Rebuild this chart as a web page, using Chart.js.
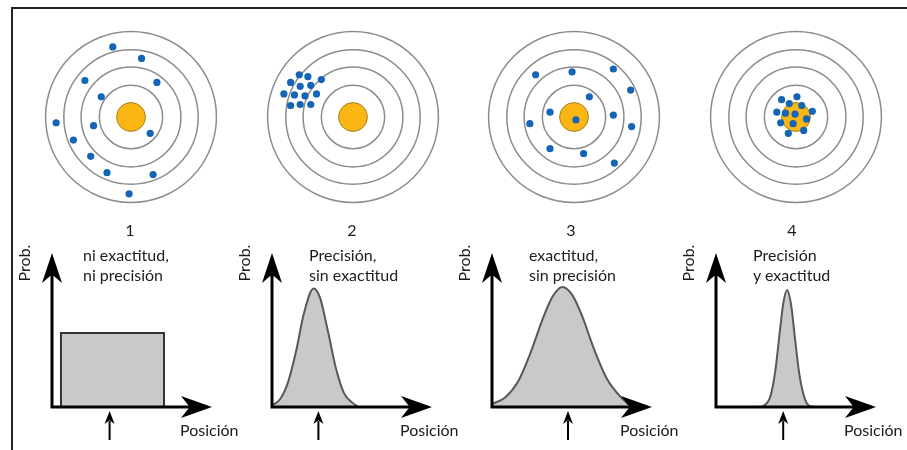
<!DOCTYPE html>
<html lang="es">
<head>
  <meta charset="UTF-8">
  <title>Exactitud y precisión</title>
  <script src="https://cdn.jsdelivr.net/npm/chart.js"></script>
  <style>
    body { margin: 0; background: #fff; width: 907px; height: 450px; overflow: hidden; position: relative; font-family: Lato, "Open Sans", sans-serif; color: #1c1c1c; }
    #frame { position: absolute; left: 11px; top: 7px; width: 896px; height: 443px; border-left: 2px solid #222; border-top: 2px solid #222; box-sizing: border-box; }
    canvas { position: absolute; }
    .txt { position: absolute; font-size: 16px; line-height: 20px; white-space: nowrap; }
    .num { transform: translateX(-50%); }
    .rot { transform: translate(-50%, -50%) rotate(-90deg); }
  </style>
</head>
<body>
  <div id="frame"></div>

  <script>
    // --- datos ---
    const panelNumbers = ['1', '2', '3', '4'];
    const captions = [
      ['ni exactitud,', 'ni precisión'],
      ['Precisión,', 'sin exactitud'],
      ['exactitud,', 'sin precisión'],
      ['Precisión', 'y exactitud']
    ];
    const yAxisLabel = 'Prob.';
    const xAxisLabel = 'Posición';

    // anillos de la diana (mismas unidades que los impactos)
    const ringRadii = [33, 52, 70, 89];
    const bullRadius = 15;

    // impactos en cada diana (x a la derecha, y hacia arriba, centro = 0)
    const hitsX1 = [-19, 11, -48, 27, -31, -78, -39, 20, -60, -42, -25, 23, -2];
    const hitsY1 = [73, 61, 38, 36, 21, -6, -9, -17, -24, -41, -58, -60, -80];
    const hitsX2 = [-56, -47, -33, -65, -55, -44, -72, -61, -50, -38, -65, -55, -44];
    const hitsY2 = [44, 42, 39, 36, 32, 33, 24, 23, 22, 24, 12, 13, 13];
    const hitsX3 = [-40, -2, 41, 59, 16, -25, 41, -46, 2, 60, -25, 10, 42];
    const hitsY3 = [44, 47, 50, 28, 21, 5, 2, -7, -3, -10, -33, -38, -48];
    const hitsX4 = [-15, 1, -7, 6, -20, -11, -1, 17, 11, -16, -3, 8, -8];
    const hitsY4 = [18, 21, 14, 12, 5, 4, 3, 6, -2, -6, -7, -14, -17];

    // distribuciones (posición 0-100, probabilidad 0-1)
    const pos1 = [5.6, 5.6, 70, 70];
    const prob1 = [0, 0.48, 0.48, 0];
    const pos2 = [0, 5, 10, 15, 20, 26, 30, 35, 40, 45, 50, 54];
    const prob2 = [0.01, 0.05, 0.16, 0.36, 0.61, 0.77, 0.71, 0.49, 0.25, 0.09, 0.03, 0];
    const pos3 = [0, 8, 16, 24, 32, 38, 44, 50, 56, 64, 72, 80, 85];
    const prob3 = [0.02, 0.06, 0.16, 0.35, 0.58, 0.72, 0.78, 0.73, 0.6, 0.37, 0.18, 0.07, 0.02];
    const pos4 = [26, 30, 34, 37, 40, 42, 44.4, 47, 49, 52, 55, 58, 62];
    const prob4 = [0, 0.01, 0.07, 0.23, 0.5, 0.67, 0.76, 0.66, 0.48, 0.22, 0.07, 0.01, 0];
    const truePos = [36, 29, 47.5, 42];

    // --- maquetación ---
    const targetCenterX = [131, 353, 574, 796];
    const targetCenterY = 117;
    const axisLeft = [52, 272, 492, 716];
    const numberX = [130, 352, 571, 792];

    const hitsX = [hitsX1, hitsX2, hitsX3, hitsX4];
    const hitsY = [hitsY1, hitsY2, hitsY3, hitsY4];
    const posList = [pos1, pos2, pos3, pos4];
    const probList = [prob1, prob2, prob3, prob4];

    function addCanvas(left, top, w, h) {
      const c = document.createElement('canvas');
      c.width = w; c.height = h;
      c.style.left = left + 'px'; c.style.top = top + 'px';
      document.body.appendChild(c);
      return c;
    }

    function addText(text, left, top, cls) {
      const d = document.createElement('div');
      d.className = 'txt ' + (cls || '');
      d.textContent = text;
      d.style.left = left + 'px'; d.style.top = top + 'px';
      document.body.appendChild(d);
    }

    const targetRings = {
      id: 'targetRings',
      beforeDatasetsDraw(chart) {
        const { ctx, scales: { x, y } } = chart;
        const cx = x.getPixelForValue(0), cy = y.getPixelForValue(0);
        const unit = x.getPixelForValue(1) - cx;
        ctx.save();
        ctx.strokeStyle = '#8c8c8c';
        ctx.lineWidth = 1.5;
        ringRadii.forEach(r => {
          ctx.beginPath();
          ctx.arc(cx, cy, r * unit, 0, Math.PI * 2);
          ctx.stroke();
        });
        ctx.beginPath();
        ctx.arc(cx, cy, bullRadius * unit, 0, Math.PI * 2);
        ctx.fillStyle = '#fbb614';
        ctx.fill();
        ctx.strokeStyle = '#a5801f';
        ctx.lineWidth = 1;
        ctx.stroke();
        ctx.restore();
      }
    };

    function arrowHead(ctx, tx, ty, dx, dy, len, half) {
      const px = -dy, py = dx;
      ctx.beginPath();
      ctx.moveTo(tx, ty);
      ctx.lineTo(tx - dx * len + px * half, ty - dy * len + py * half);
      ctx.lineTo(tx - dx * len * 0.72, ty - dy * len * 0.72);
      ctx.lineTo(tx - dx * len - px * half, ty - dy * len - py * half);
      ctx.closePath();
      ctx.fill();
    }

    const axesArrows = {
      id: 'axesArrows',
      afterDatasetsDraw(chart, args, opts) {
        const { ctx, scales: { x, y } } = chart;
        const ox = x.getPixelForValue(0), oy = y.getPixelForValue(0);
        const tx = x.getPixelForValue(100), ty = y.getPixelForValue(1);
        ctx.save();
        ctx.strokeStyle = '#000';
        ctx.fillStyle = '#000';
        ctx.lineWidth = 3;
        ctx.beginPath();
        ctx.moveTo(ox, oy + 1.5);
        ctx.lineTo(ox, ty + 20);
        ctx.moveTo(ox - 1.5, oy);
        ctx.lineTo(tx - 20, oy);
        ctx.stroke();
        arrowHead(ctx, ox, ty, 0, -1, 30, 10);
        arrowHead(ctx, tx, oy, 1, 0, 31, 11);
        // valor verdadero
        const px = x.getPixelForValue(opts.truth);
        ctx.lineWidth = 2;
        ctx.beginPath();
        ctx.moveTo(px, oy + 14);
        ctx.lineTo(px, oy + 33);
        ctx.stroke();
        arrowHead(ctx, px, oy + 4, 0, -1, 13, 5);
        ctx.restore();
      }
    };

    const hidden = { display: false };

    for (let i = 0; i < 4; i++) {
      // diana
      const tc = addCanvas(targetCenterX[i] - 100, targetCenterY - 100, 200, 200);
      new Chart(tc, {
        type: 'scatter',
        data: {
          datasets: [{
            data: hitsX[i].map((v, k) => ({ x: v, y: hitsY[i][k] })),
            backgroundColor: '#1465b5',
            borderWidth: 0,
            pointRadius: 3.6
          }]
        },
        options: {
          responsive: false,
          animation: false,
          events: [],
          layout: { padding: 0 },
          plugins: { legend: hidden, tooltip: { enabled: false } },
          scales: {
            x: { type: 'linear', min: -100, max: 100, display: false },
            y: { type: 'linear', min: -100, max: 100, display: false }
          }
        },
        plugins: [targetRings]
      });

      // distribución
      const dc = addCanvas(axisLeft[i] - 15, 235, 185, 215);
      new Chart(dc, {
        type: 'line',
        data: {
          datasets: [{
            data: posList[i].map((v, k) => ({ x: v, y: probList[i][k] })),
            fill: 'origin',
            backgroundColor: '#c9c9c9',
            borderColor: i === 0 ? '#333' : '#585858',
            borderWidth: 2,
            pointRadius: 0,
            tension: i === 0 ? 0 : 0.4,
            cubicInterpolationMode: i === 0 ? 'default' : 'monotone'
          }]
        },
        options: {
          responsive: false,
          animation: false,
          events: [],
          layout: { padding: { left: 15, right: 10, top: 18, bottom: 43 } },
          plugins: { legend: hidden, tooltip: { enabled: false }, axesArrows: { truth: truePos[i] } },
          scales: {
            x: { type: 'linear', min: 0, max: 100, display: false },
            y: { type: 'linear', min: 0, max: 1, display: false }
          }
        },
        plugins: [axesArrows]
      });

      // textos
      addText(panelNumbers[i], numberX[i], 220, 'num');
      addText(captions[i][0], axisLeft[i] + (i === 0 ? 31 : 37), 245);
      addText(captions[i][1], axisLeft[i] + (i === 0 ? 31 : 37), 265);
      addText(yAxisLabel, axisLeft[i] - 28, 263, 'rot');
      addText(xAxisLabel, axisLeft[i] + 128, 420);
    }
  </script>
</body>
</html>
